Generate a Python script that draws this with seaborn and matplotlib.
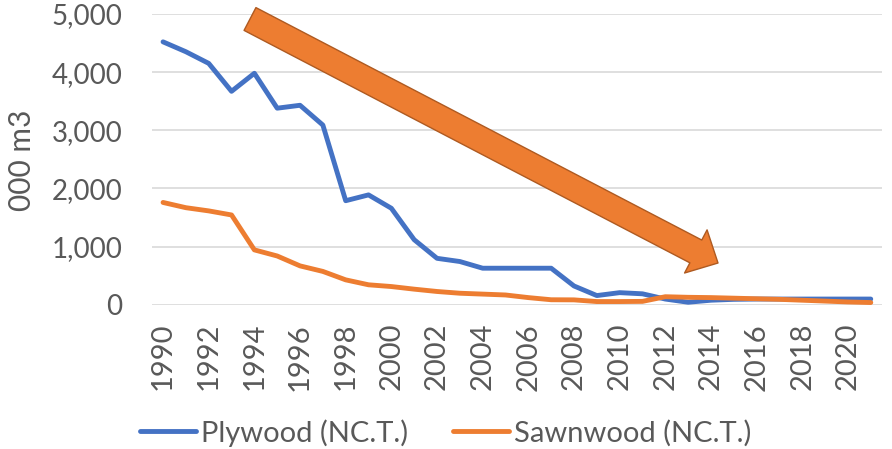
import matplotlib
matplotlib.use("Agg")
import matplotlib.pyplot as plt
from matplotlib.patches import FancyArrowPatch
from matplotlib.ticker import FuncFormatter
import pandas as pd
import seaborn as sns

# データ
years = list(range(1990, 2022))
plywood = [4520, 4350, 4150, 3670, 3980, 3380, 3430, 3090, 1790, 1890,
           1660, 1120, 800, 745, 630, 630, 630, 630, 325, 160,
           210, 190, 100, 45, 80, 95, 100, 100, 100, 100, 100, 100]
sawnwood = [1760, 1670, 1615, 1545, 945, 840, 670, 575, 430, 345,
            315, 270, 230, 200, 185, 170, 125, 88, 86, 57,
            57, 60, 140, 130, 125, 115, 105, 95, 80, 65, 50, 40]
series_names = ["Plywood (NC.T.)", "Sawnwood (NC.T.)"]
y_ticks = [0, 1000, 2000, 3000, 4000, 5000]
x_ticks = list(range(1990, 2021, 2))

df = pd.DataFrame({
    "year": years * 2,
    "value": plywood + sawnwood,
    "series": [series_names[0]] * len(years) + [series_names[1]] * len(years),
})

sns.set_style("white")
plt.rcParams["font.family"] = ["Lato", "DejaVu Sans"]

TEXT = "#595959"
palette = {series_names[0]: "#4472C4", series_names[1]: "#ED7D31"}

fig = plt.figure(figsize=(8.92, 4.49), dpi=100)
ax = fig.add_axes([0.170, 0.321, 0.819, 0.648])

sns.lineplot(data=df, x="year", y="value", hue="series", palette=palette,
             linewidth=3.5, ax=ax, legend=True)

ax.set_xlim(1989.5, 2021.5)
ax.set_ylim(0, 5000)
ax.set_yticks(y_ticks)
ax.yaxis.set_major_formatter(FuncFormatter(lambda v, p: f"{int(v):,}"))
ax.set_xticks(x_ticks)
ax.set_xticklabels([str(y) for y in x_ticks], rotation=90)
ax.tick_params(axis="both", length=0, colors=TEXT)
ax.tick_params(axis="x", pad=13, labelsize=21)
ax.tick_params(axis="y", pad=21, labelsize=20)
ax.grid(True, axis="y", color="#D9D9D9", linewidth=1.2)
ax.set_axisbelow(True)
for s in ax.spines.values():
    s.set_visible(False)
ax.set_xlabel("")
ax.set_ylabel("")
fig.text(22 / 892, 1 - 160 / 449, "000 m3", rotation=90, fontsize=21.5,
         color=TEXT, ha="center", va="center")

handles, labels = ax.get_legend_handles_labels()
ax.legend(handles, labels, loc="center", bbox_to_anchor=(0.402, -0.44),
          ncol=2, frameon=False, fontsize=21, labelcolor=TEXT,
          handlelength=1.92, handletextpad=0.17, columnspacing=1.54)

# 減少傾向を示す矢印（図のインチ座標）
arrow = FancyArrowPatch(
    (2.50, 4.30), (7.18, 1.86), transform=fig.dpi_scale_trans,
    arrowstyle="simple,head_length=18,head_width=35,tail_width=18.5",
    mutation_scale=1, shrinkA=0, shrinkB=0,
    facecolor="#ED7D31", edgecolor="#AE5A21", linewidth=1.0,
)
fig.patches.append(arrow)

fig.savefig("out.png", dpi=100)
